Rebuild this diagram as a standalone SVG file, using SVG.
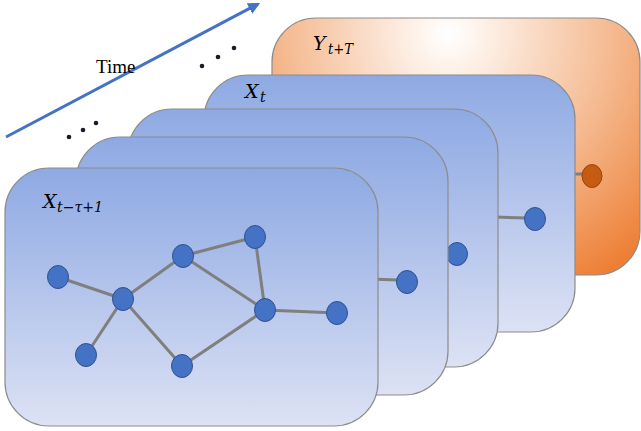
<svg xmlns="http://www.w3.org/2000/svg" width="641" height="431" viewBox="0 0 641 431">
<defs>
<linearGradient id="blue" x1="0" y1="0" x2="0" y2="1">
<stop offset="0" stop-color="#8ea9e3"/>
<stop offset="1" stop-color="#dde2f4"/>
</linearGradient>
<radialGradient id="orange" gradientUnits="userSpaceOnUse" cx="448" cy="34" r="290">
<stop offset="0" stop-color="#ffffff"/>
<stop offset="0.08" stop-color="#fef6f0"/>
<stop offset="0.55" stop-color="#f5bc94"/>
<stop offset="1" stop-color="#ed7d31"/>
</radialGradient>
<marker id="ah" viewBox="0 0 10 10" refX="8" refY="5" markerWidth="4" markerHeight="4" orient="auto" markerUnits="strokeWidth">
<path d="M0,0 L10,5 L0,10 z" fill="#4472c4"/>
</marker>
<style>
.card{stroke:#8c8c8c;stroke-width:1.2}
.blue{fill:url(#blue)}
.node{fill:#4472c4;stroke:#2f528f;stroke-width:1}
.onode{fill:#c55a11;stroke:#9c4410;stroke-width:1}
.edge{stroke:#7f7f7f;stroke-width:3;fill:none}
.lbl{font-family:"DejaVu Serif","Liberation Serif",serif;font-style:italic;fill:#000;font-size:19px}
.sub{font-family:"DejaVu Serif","Liberation Serif",serif;font-style:italic;fill:#000;font-size:14px}
.dot{fill:#1a1a2e}
</style>
</defs>
<rect width="641" height="431" fill="#ffffff"/>

<g id="time-axis">
<line x1="6" y1="137" x2="258" y2="4" stroke="#4472c4" stroke-width="3" marker-end="url(#ah)"/>
<text x="96" y="73" font-family="Liberation Serif, DejaVu Serif, serif" font-size="19" fill="#000">Time</text>
<circle class="dot" cx="69" cy="137" r="2.3"/>
<circle class="dot" cx="83" cy="130" r="2.3"/>
<circle class="dot" cx="96" cy="123" r="2.3"/>
<circle class="dot" cx="202" cy="66" r="2.3"/>
<circle class="dot" cx="218" cy="57" r="2.3"/>
<circle class="dot" cx="234" cy="48" r="2.3"/>
</g>

<g id="card-y">
<rect class="card" x="272" y="18" width="368" height="257" rx="44" fill="url(#orange)"/>
<text class="lbl" x="313" y="50">Y</text>
<text class="sub" x="328" y="54" textLength="25" lengthAdjust="spacingAndGlyphs">t+T</text>
<line class="edge" x1="570" y1="174" x2="583" y2="174"/>
<ellipse class="onode" cx="592" cy="176" rx="10" ry="11.5"/>
</g>

<g id="card-xt">
<rect class="card blue" x="204" y="75" width="371" height="257" rx="44"/>
<text class="lbl" x="245" y="98">X</text>
<text class="sub" x="260" y="102">t</text>
<line class="edge" x1="495" y1="217" x2="526" y2="218"/>
<ellipse class="node" cx="535" cy="219" rx="10.5" ry="11.5"/>
</g>

<g id="card-3">
<rect class="card blue" x="128" y="109" width="370" height="258" rx="44"/>
<line class="edge" x1="440" y1="254" x2="450" y2="254"/>
<ellipse class="node" cx="457" cy="254" rx="10.5" ry="11.5"/>
</g>

<g id="card-2">
<rect class="card blue" x="76" y="137" width="372" height="258" rx="44"/>
<line class="edge" x1="370" y1="279" x2="398" y2="280"/>
<ellipse class="node" cx="407" cy="282" rx="10.5" ry="11.5"/>
</g>

<g id="card-1">
<rect class="card blue" x="5" y="168" width="373" height="258" rx="44"/>
<text class="lbl" x="43" y="208">X</text>
<text class="sub" x="57" y="212" textLength="46" lengthAdjust="spacingAndGlyphs">t−τ+1</text>
<g id="connectors">
<line class="edge" x1="58" y1="277" x2="123" y2="299"/>
<line class="edge" x1="123" y1="299" x2="183" y2="256"/>
<line class="edge" x1="183" y1="256" x2="255" y2="237"/>
<line class="edge" x1="183" y1="256" x2="265" y2="310"/>
<line class="edge" x1="255" y1="237" x2="265" y2="310"/>
<line class="edge" x1="265" y1="310" x2="337" y2="313"/>
<line class="edge" x1="123" y1="299" x2="86" y2="355"/>
<line class="edge" x1="123" y1="299" x2="182" y2="366"/>
<line class="edge" x1="182" y1="366" x2="265" y2="310"/>
</g>
<g id="n1"><ellipse class="node" cx="58" cy="277" rx="10.5" ry="11.5"/></g>
<g id="n2"><ellipse class="node" cx="123" cy="299" rx="10.5" ry="11.5"/></g>
<g id="n3"><ellipse class="node" cx="183" cy="256" rx="10.5" ry="11.5"/></g>
<g id="n4"><ellipse class="node" cx="255" cy="237" rx="10.5" ry="11.5"/></g>
<g id="n5"><ellipse class="node" cx="265" cy="310" rx="10.5" ry="11.5"/></g>
<g id="n6"><ellipse class="node" cx="337" cy="313" rx="10.5" ry="11.5"/></g>
<g id="n7"><ellipse class="node" cx="86" cy="355" rx="10.5" ry="11.5"/></g>
<g id="n8"><ellipse class="node" cx="182" cy="366" rx="10.5" ry="11.5"/></g>
</g>
</svg>
